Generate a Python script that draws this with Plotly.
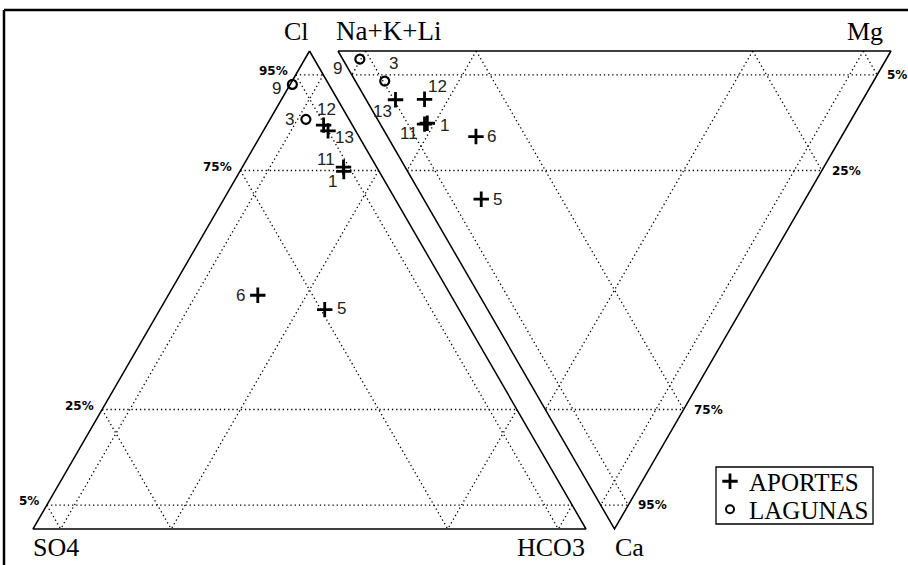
import plotly.graph_objects as go

# ---------------- data (percent of meq) ----------------
aportes_names = ["1", "5", "6", "11", "12", "13"]
lagunas_names = ["3", "9"]

# anions
aportes_cl = [74.8, 45.9, 48.9, 75.7, 84.5, 83.3]
aportes_so4 = [6.4, 24.3, 34.9, 6.0, 5.2, 5.0]
aportes_hco3 = [18.8, 29.8, 16.2, 18.3, 10.3, 11.7]
lagunas_cl = [85.7, 93.0]
lagunas_so4 = [7.8, 6.6]
lagunas_hco3 = [6.5, 0.4]

# cations
aportes_na = [76.3, 58.6, 66.1, 76.7, 79.3, 84.5]
aportes_mg = [8.6, 10.4, 16.0, 8.0, 10.6, 5.3]
aportes_ca = [15.1, 31.0, 17.9, 15.3, 10.1, 10.2]
lagunas_na = [88.4, 95.2]
lagunas_mg = [5.3, 3.1]
lagunas_ca = [6.3, 1.7]

grid_levels = [5, 25, 75, 95]
anion_labels = ["Cl", "SO4", "HCO3"]
cation_labels = ["Na+K+Li", "Mg", "Ca"]
legend_names = ["APORTES", "LAGUNAS"]

# ---------------- label offsets (pixels, style only) ----------------
aportes_anion_off = [(-11, 10), (17, -1), (-17, 0), (-18, -8), (3, -16), (16, 7)]
aportes_cation_off = [(17, 2), (16, 0), (16, 0), (-16, 9), (13, -13), (-13, 12)]
lagunas_anion_off = [(-16, 0), (-16, 4)]
lagunas_cation_off = [(9, -18), (-22, 9)]

# ---------------- geometry ----------------
W, H = 908, 565
SIDE = 553.0
HGT = 478.0
AN_X0 = 33.0     # left vertex of anion triangle
BASE_Y = 529.0
CA_X0 = 338.0    # left vertex of cation triangle
TOP_Y = 51.0
LEG_BOX = (716, 467, 873, 524)


def anion_xy(cl, so4, hco3):
    t = cl + so4 + hco3
    cl, hco3 = cl / t, hco3 / t
    return AN_X0 + hco3 * SIDE + cl * SIDE / 2, BASE_Y - cl * HGT


def cation_xy(na, mg, ca):
    t = na + mg + ca
    mg, ca = mg / t, ca / t
    return CA_X0 + mg * SIDE + ca * SIDE / 2, TOP_Y + ca * HGT


def pts(fn, a, b, c):
    xs, ys = [], []
    for p, q, r in zip(a, b, c):
        x, y = fn(p, q, r)
        xs.append(x)
        ys.append(y)
    return xs, ys


def grid(fn):
    xs, ys = [], []
    for v in grid_levels:
        w = 100 - v
        for (p1, p2) in [((v, w, 0), (v, 0, w)),
                         ((w, v, 0), (0, v, w)),
                         ((w, 0, v), (0, w, v))]:
            x1, y1 = fn(*p1)
            x2, y2 = fn(*p2)
            xs += [x1, x2, None]
            ys += [y1, y2, None]
    return xs, ys


def outline(fn):
    xs, ys = [], []
    for p in [(100, 0, 0), (0, 100, 0), (0, 0, 100), (100, 0, 0)]:
        x, y = fn(*p)
        xs.append(x)
        ys.append(y)
    return xs, ys


fig = go.Figure()

# grids
for fn in (anion_xy, cation_xy):
    gx, gy = grid(fn)
    fig.add_trace(go.Scatter(x=gx, y=gy, mode="lines", showlegend=False,
                             hoverinfo="skip",
                             line=dict(color="#000", width=1.3, dash="1.3px,2.9px")))
# outlines
for fn in (anion_xy, cation_xy):
    ox, oy = outline(fn)
    fig.add_trace(go.Scatter(x=ox, y=oy, mode="lines", showlegend=False,
                             hoverinfo="skip",
                             line=dict(color="black", width=1.5)))

lab_font = dict(family="Liberation Sans", size=17, color="#222")
cross = dict(symbol="cross-thin", size=11, color="black",
             line=dict(color="black", width=2.8))
circ = dict(symbol="circle-open", size=9, color="black",
            line=dict(color="black", width=2.2))

annotations = []

series = [
    (anion_xy, aportes_cl, aportes_so4, aportes_hco3, aportes_names,
     aportes_anion_off, cross, legend_names[0]),
    (cation_xy, aportes_na, aportes_mg, aportes_ca, aportes_names,
     aportes_cation_off, cross, legend_names[0]),
    (anion_xy, lagunas_cl, lagunas_so4, lagunas_hco3, lagunas_names,
     lagunas_anion_off, circ, legend_names[1]),
    (cation_xy, lagunas_na, lagunas_mg, lagunas_ca, lagunas_names,
     lagunas_cation_off, circ, legend_names[1]),
]
for fn, a, b, c, names, offs, mk, grp in series:
    xs, ys = pts(fn, a, b, c)
    fig.add_trace(go.Scatter(x=xs, y=ys, mode="markers", name=grp,
                             showlegend=False, text=names, marker=mk,
                             hovertemplate=grp + " %{text}<extra></extra>",
                             cliponaxis=False))
    for x, y, n, (dx, dy) in zip(xs, ys, names, offs):
        annotations.append(dict(x=x, y=y, text=n, xshift=dx, yshift=-dy,
                                xanchor="center", yanchor="middle",
                                showarrow=False, font=lab_font))

# legend (drawn in a box)
bx0, by0, bx1, by1 = LEG_BOX
row_y = [by0 + (by1 - by0) * 0.25, by0 + (by1 - by0) * 0.74]
fig.add_trace(go.Scatter(x=[bx0 + 14], y=[row_y[0]], mode="markers", showlegend=False,
                         hoverinfo="skip", marker=cross, cliponaxis=False))
fig.add_trace(go.Scatter(x=[bx0 + 14], y=[row_y[1]], mode="markers", showlegend=False,
                         hoverinfo="skip",
                         marker=dict(symbol="circle-open", size=8, color="black",
                                     line=dict(color="black", width=2)),
                         cliponaxis=False))

serif = dict(family="Liberation Serif", size=26, color="black")
pct_font = dict(family="DejaVu Sans", size=12, color="black", weight="bold")

for name, yy in zip(legend_names, row_y):
    annotations.append(dict(x=bx0 + 31, y=yy + 1, text=name, xanchor="left",
                            yanchor="middle", showarrow=False,
                            font=dict(family="Liberation Serif", size=25,
                                      color="black")))

# percent labels
for v in grid_levels:
    x, y = anion_xy(v, 100 - v, 0)
    annotations.append(dict(x=x - 6, y=y - 4, text=f"{v}%",
                            xanchor="right", yanchor="middle", showarrow=False,
                            font=pct_font))
    x, y = cation_xy(0, 100 - v, v)
    annotations.append(dict(x=x + 8, y=y, text=f"{v}%", xanchor="left",
                            yanchor="middle", showarrow=False, font=pct_font))

# vertex labels
x, y = anion_xy(100, 0, 0)
annotations.append(dict(x=x + 1, y=y - 20, text=anion_labels[0], xanchor="right",
                        yanchor="middle", showarrow=False, font=serif))
x, y = anion_xy(0, 100, 0)
annotations.append(dict(x=x - 2, y=y + 18, text=anion_labels[1], xanchor="left",
                        yanchor="middle", showarrow=False, font=serif))
x, y = anion_xy(0, 0, 100)
annotations.append(dict(x=x + 1, y=y + 18, text=anion_labels[2], xanchor="right",
                        yanchor="middle", showarrow=False, font=serif))
x, y = cation_xy(100, 0, 0)
annotations.append(dict(x=x - 4, y=y - 20, text=cation_labels[0], xanchor="left",
                        yanchor="middle", showarrow=False,
                        font=dict(family="Liberation Serif", size=27, color="black")))
x, y = cation_xy(0, 100, 0)
annotations.append(dict(x=x - 6, y=y - 20, text=cation_labels[1], xanchor="right",
                        yanchor="middle", showarrow=False, font=serif))
x, y = cation_xy(0, 0, 100)
annotations.append(dict(x=x - 2, y=y + 18, text=cation_labels[2], xanchor="left",
                        yanchor="middle", showarrow=False, font=serif))

shapes = [
    dict(type="line", xref="paper", yref="paper", x0=4 / W, x1=1.01,
         y0=1 - 10 / H, y1=1 - 10 / H, line=dict(color="black", width=2.5)),
    dict(type="line", xref="paper", yref="paper", x0=4 / W, x1=4 / W,
         y0=1 - 10 / H, y1=-0.01, line=dict(color="black", width=2.5)),
    dict(type="rect", xref="x", yref="y", x0=bx0, x1=bx1, y0=by0, y1=by1,
         line=dict(color="black", width=1.3), fillcolor="rgba(0,0,0,0)"),
]

fig.update_layout(
    width=W, height=H,
    margin=dict(l=0, r=0, t=0, b=0),
    paper_bgcolor="white", plot_bgcolor="white",
    xaxis=dict(visible=False, range=[0, W], fixedrange=True),
    yaxis=dict(visible=False, range=[H, 0], fixedrange=True),
    showlegend=False,
    annotations=annotations,
    shapes=shapes,
)

fig.write_html("out.html", config={"displayModeBar": False},
               post_script="document.body.style.margin='0';document.body.style.overflow='hidden';")
